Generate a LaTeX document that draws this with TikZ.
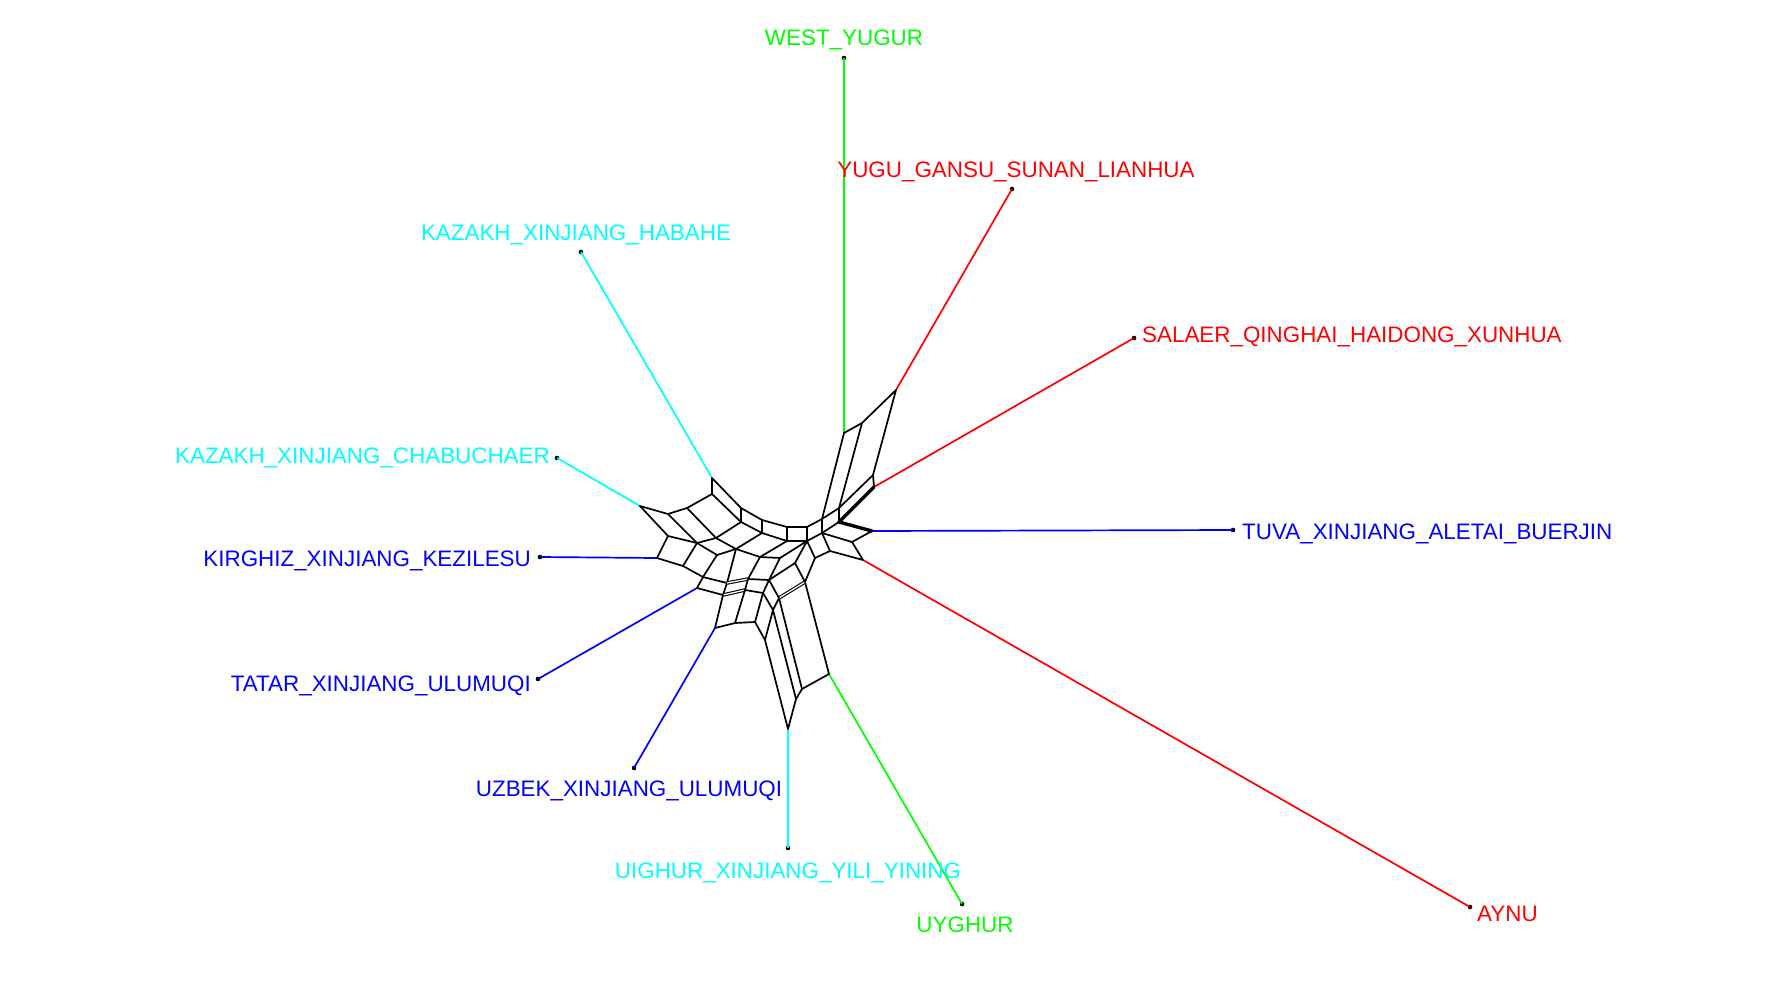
\documentclass[tikz,border=0pt]{standalone}
\usepackage{fontspec}
\setmainfont{Liberation Sans}
\definecolor{cgreen}{RGB}{0,255,0}
\definecolor{cred}{RGB}{255,0,0}
\definecolor{ccyan}{RGB}{0,255,255}
\definecolor{cblue}{RGB}{0,0,255}
\begin{document}
\begin{tikzpicture}[x=1pt,y=-1pt,
  net/.style={black,line width=1.7pt,line join=round,line cap=round},
  thicknet/.style={black,line width=3.4pt,line cap=round},
  dbl/.style={black,double,double distance=1.3pt,line width=1.1pt},
  leaf/.style={line width=1.7pt},
  lbl/.style={font=\fontsize{22.4}{26}\selectfont,inner sep=0pt},
  tipdot/.style={circle,fill=black,inner sep=0pt,minimum size=4.6pt}]
\useasboundingbox (0,0) rectangle (1778,1004);
% ---- network vertices
\coordinate (ha) at (712,478); \coordinate (B) at (712,494);
\coordinate (E) at (687,508); \coordinate (D) at (668,514);
\coordinate (ch) at (640,506);
\coordinate (P1) at (741,508); \coordinate (P2) at (762,520);
\coordinate (P3) at (787,527); \coordinate (S2) at (807,527);
\coordinate (Q1) at (741,522); \coordinate (Q2) at (762,533);
\coordinate (Q3) at (787,541); \coordinate (S3) at (807,541);
\coordinate (R1) at (822,519); \coordinate (R2) at (839,508);
\coordinate (R3) at (873,475); \coordinate (R4) at (862,423);
\coordinate (wy) at (844,433); \coordinate (yg) at (896,390);
\coordinate (R1b) at (822,533); \coordinate (R2b) at (839,522);
\coordinate (sa) at (874,487);
\coordinate (T1) at (852,542); \coordinate (tu) at (872,531);
\coordinate (T2) at (830,551); \coordinate (ay) at (863,560);
\coordinate (T3) at (815,558);
\coordinate (K1) at (668,536); \coordinate (K2) at (697,543);
\coordinate (K3) at (716,538);
\coordinate (M1) at (736,549); \coordinate (M2) at (760,557);
\coordinate (V1) at (780,558);
\coordinate (ki) at (657,558); \coordinate (L1) at (683,566);
\coordinate (L2) at (717,555);
\coordinate (N1) at (703,577); \coordinate (ta) at (697,588);
\coordinate (N2) at (727,583); \coordinate (N3) at (723,595);
\coordinate (W1) at (748,579);
\coordinate (uz) at (715,628); \coordinate (U1) at (735,623);
\coordinate (U2) at (745,590); \coordinate (U3) at (755,622);
\coordinate (U4) at (763,593); \coordinate (U5) at (765,640);
\coordinate (U6) at (773,610); \coordinate (U7) at (779,598);
\coordinate (U8) at (769,580); \coordinate (U9) at (795,563);
\coordinate (U10) at (805,582);
\coordinate (ui) at (788,729); \coordinate (U11) at (796,699);
\coordinate (U12) at (802,689); \coordinate (uy) at (829,674);
% ---- leaf tips
\node[tipdot] (WYd) at (844,58) {};
\node[tipdot] (YGd) at (1012,189) {};
\node[tipdot] (SAd) at (1134,338) {};
\node[tipdot] (TUd) at (1233,530) {};
\node[tipdot] (AYd) at (1470,907) {};
\node[tipdot] (UYd) at (962,904) {};
\node[tipdot] (UId) at (788,848) {};
\node[tipdot] (UZd) at (634,768) {};
\node[tipdot] (TAd) at (538,679) {};
\node[tipdot] (KId) at (540,557) {};
\node[tipdot] (CHd) at (557,458) {};
\node[tipdot] (HAd) at (581,252) {};
% ---- leaf edges
\draw[leaf,cgreen] (wy) -- (WYd.center);
\draw[leaf,cred] (yg) -- (YGd.center);
\draw[leaf,cred] (sa) -- (SAd.center);
\draw[leaf,cblue] (tu) -- (TUd.center);
\draw[leaf,cred] (ay) -- (AYd.center);
\draw[leaf,cgreen] (uy) -- (UYd.center);
\draw[leaf,ccyan] (ui) -- (UId.center);
\draw[leaf,cblue] (uz) -- (UZd.center);
\draw[leaf,cblue] (ta) -- (TAd.center);
\draw[leaf,cblue] (ki) -- (KId.center);
\draw[leaf,ccyan] (ch) -- (CHd.center);
\draw[leaf,ccyan] (ha) -- (HAd.center);
% ---- network edges
\draw[net] (ch) -- (D) -- (E) -- (B) -- (ha) -- (P1) -- (P2) -- (P3) -- (S2) -- (R1) -- (R2) -- (R3) -- (yg) -- (R4) -- (wy) -- (R1);
\draw[net] (R2) -- (R4);
\draw[net] (R3) -- (sa);
\draw[net] (B) -- (Q1) -- (Q2) -- (Q3) -- (S3) -- (R1b) -- (R2b);
\draw[net] (P1) -- (Q1); \draw[net] (P2) -- (Q2); \draw[net] (P3) -- (Q3);
\draw[net] (S2) -- (S3); \draw[net] (R1) -- (R1b); \draw[net] (R2) -- (R2b);
\draw[thicknet] (R2b) -- (sa);
\draw[thicknet] (R2b) -- (tu);
\draw[net] (R1b) -- (T1) -- (tu);
\draw[net] (R1b) -- (T2) -- (ay) -- (T1);
\draw[net] (S3) -- (T3) -- (T2);
\draw[net] (ch) -- (K1) -- (K2) -- (K3) -- (Q1);
\draw[net] (D) -- (K2); \draw[net] (E) -- (K3);
\draw[net] (K1) -- (ki) -- (L1) -- (K2);
\draw[net] (K2) -- (L2) -- (M1) -- (K3);
\draw[net] (Q2) -- (M1) -- (M2) -- (Q3);
\draw[net] (M2) -- (V1) -- (S3);
\draw[net] (L1) -- (N1) -- (L2);
\draw[net] (M1) -- (N2);
\draw[net] (M2) -- (W1);
\draw[net] (N1) -- (ta) -- (N3) -- (N2) -- (N1);
\draw[dbl] (N2) -- (W1);
\draw[dbl] (N3) -- (U2);
\draw[net] (W1) -- (U2);
\draw[net] (W1) -- (U8) -- (V1);
\draw[net] (N3) -- (uz) -- (U1) -- (U2);
\draw[net] (U2) -- (U4) -- (U3) -- (U1);
\draw[net] (U3) -- (U5) -- (U6) -- (U4);
\draw[net] (U5) -- (ui) -- (U11) -- (U6);
\draw[net] (U6) -- (U7) -- (U12) -- (U11);
\draw[net] (U12) -- (uy) -- (U10);
\draw[dbl] (U7) -- (U10);
\draw[net] (U4) -- (U8) -- (U7);
\draw[net] (U8) -- (U9) -- (U10);
\draw[net] (S3) -- (U9);
\draw[net] (T3) -- (U10);
% ---- labels
\node[lbl,text=cgreen,anchor=base] (tWY) at (844,45) {WEST\_YUGUR};
\node[lbl,text=cred,anchor=base] (tYG) at (1016,177) {YUGU\_GANSU\_SUNAN\_LIANHUA};
\node[lbl,text=ccyan,anchor=base] (tHA) at (576,240) {KAZAKH\_XINJIANG\_HABAHE};
\node[lbl,text=cred,anchor=base west] (tSA) at (1142,342) {SALAER\_QINGHAI\_HAIDONG\_XUNHUA};
\node[lbl,text=ccyan,anchor=base east] (tCH) at (550,463) {KAZAKH\_XINJIANG\_CHABUCHAER};
\node[lbl,text=cblue,anchor=base west] (tTU) at (1242,539) {TUVA\_XINJIANG\_ALETAI\_BUERJIN};
\node[lbl,text=cblue,anchor=base east] (tKI) at (531,566) {KIRGHIZ\_XINJIANG\_KEZILESU};
\node[lbl,text=cblue,anchor=base east] (tTA) at (531,691) {TATAR\_XINJIANG\_ULUMUQI};
\node[lbl,text=cblue,anchor=base] (tUZ) at (629,796) {UZBEK\_XINJIANG\_ULUMUQI};
\node[lbl,text=ccyan,anchor=base] (tUI) at (788,878) {UIGHUR\_XINJIANG\_YILI\_YINING};
\node[lbl,text=cgreen,anchor=base] (tUY) at (965,932) {UYGHUR};
\node[lbl,text=cred,anchor=base west] (tAY) at (1477,921) {AYNU};
\end{tikzpicture}
\end{document}
